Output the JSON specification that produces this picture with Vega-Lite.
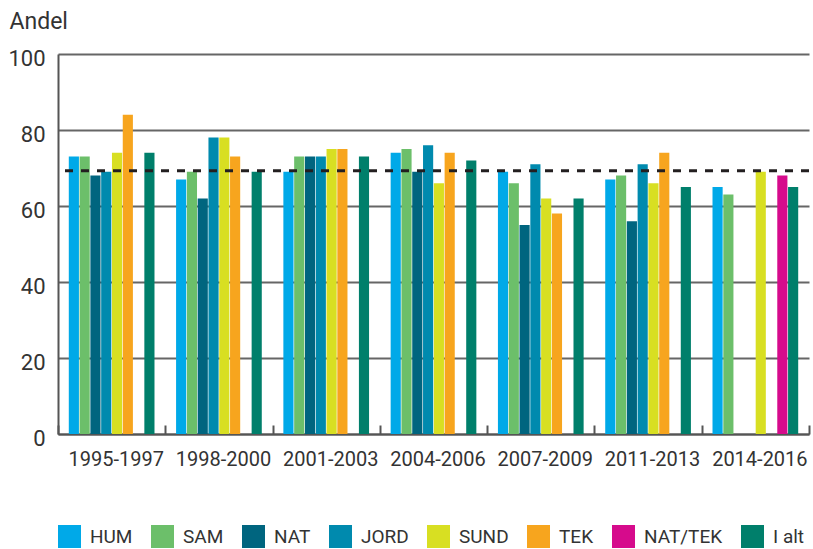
{
  "$schema": "https://vega.github.io/schema/vega-lite/v6.json",
  "autosize": {"type": "none"},
  "padding": {"left": 58, "top": 54, "right": 4, "bottom": 115},
  "width": 751,
  "height": 380,
  "config": {
    "font": "Roboto",
    "view": {"stroke": null},
    "axis": {"labelColor": "#333333", "titleColor": "#333333", "labelFont": "Roboto", "titleFont": "Roboto"},
    "legend": {"labelFont": "Roboto"}
  },
  "datasets": {
    "andele": [
      {"periode": "1995-1997", "omraade": "HUM", "andel": 73},
      {"periode": "1995-1997", "omraade": "SAM", "andel": 73},
      {"periode": "1995-1997", "omraade": "NAT", "andel": 68},
      {"periode": "1995-1997", "omraade": "JORD", "andel": 69},
      {"periode": "1995-1997", "omraade": "SUND", "andel": 74},
      {"periode": "1995-1997", "omraade": "TEK", "andel": 84},
      {"periode": "1995-1997", "omraade": "I alt", "andel": 74},
      {"periode": "1998-2000", "omraade": "HUM", "andel": 67},
      {"periode": "1998-2000", "omraade": "SAM", "andel": 69},
      {"periode": "1998-2000", "omraade": "NAT", "andel": 62},
      {"periode": "1998-2000", "omraade": "JORD", "andel": 78},
      {"periode": "1998-2000", "omraade": "SUND", "andel": 78},
      {"periode": "1998-2000", "omraade": "TEK", "andel": 73},
      {"periode": "1998-2000", "omraade": "I alt", "andel": 69},
      {"periode": "2001-2003", "omraade": "HUM", "andel": 69},
      {"periode": "2001-2003", "omraade": "SAM", "andel": 73},
      {"periode": "2001-2003", "omraade": "NAT", "andel": 73},
      {"periode": "2001-2003", "omraade": "JORD", "andel": 73},
      {"periode": "2001-2003", "omraade": "SUND", "andel": 75},
      {"periode": "2001-2003", "omraade": "TEK", "andel": 75},
      {"periode": "2001-2003", "omraade": "I alt", "andel": 73},
      {"periode": "2004-2006", "omraade": "HUM", "andel": 74},
      {"periode": "2004-2006", "omraade": "SAM", "andel": 75},
      {"periode": "2004-2006", "omraade": "NAT", "andel": 69},
      {"periode": "2004-2006", "omraade": "JORD", "andel": 76},
      {"periode": "2004-2006", "omraade": "SUND", "andel": 66},
      {"periode": "2004-2006", "omraade": "TEK", "andel": 74},
      {"periode": "2004-2006", "omraade": "I alt", "andel": 72},
      {"periode": "2007-2009", "omraade": "HUM", "andel": 69},
      {"periode": "2007-2009", "omraade": "SAM", "andel": 66},
      {"periode": "2007-2009", "omraade": "NAT", "andel": 55},
      {"periode": "2007-2009", "omraade": "JORD", "andel": 71},
      {"periode": "2007-2009", "omraade": "SUND", "andel": 62},
      {"periode": "2007-2009", "omraade": "TEK", "andel": 58},
      {"periode": "2007-2009", "omraade": "I alt", "andel": 62},
      {"periode": "2011-2013", "omraade": "HUM", "andel": 67},
      {"periode": "2011-2013", "omraade": "SAM", "andel": 68},
      {"periode": "2011-2013", "omraade": "NAT", "andel": 56},
      {"periode": "2011-2013", "omraade": "JORD", "andel": 71},
      {"periode": "2011-2013", "omraade": "SUND", "andel": 66},
      {"periode": "2011-2013", "omraade": "TEK", "andel": 74},
      {"periode": "2011-2013", "omraade": "I alt", "andel": 65},
      {"periode": "2014-2016", "omraade": "HUM", "andel": 65},
      {"periode": "2014-2016", "omraade": "SAM", "andel": 63},
      {"periode": "2014-2016", "omraade": "SUND", "andel": 69},
      {"periode": "2014-2016", "omraade": "NAT/TEK", "andel": 68},
      {"periode": "2014-2016", "omraade": "I alt", "andel": 65}
    ],
    "gennemsnit": [{"andel": 69.3}]
  },
  "layer": [
    {
      "data": {"name": "andele"},
      "mark": {"type": "bar"},
      "encoding": {
        "x": {
          "field": "periode", "type": "nominal", "sort": null,
          "scale": {"paddingInner": 0, "paddingOuter": 0},
          "axis": {
            "title": null, "labelAngle": 0, "labelFontSize": 20, "labelPadding": 24,
            "labelOffset": 4,
            "domainColor": "#555555", "domainWidth": 2,
            "tickBand": "extent", "tickSize": -9, "tickColor": "#555555", "tickWidth": 2
          }
        },
        "xOffset": {
          "field": "omraade", "type": "nominal",
          "sort": ["HUM", "SAM", "NAT", "JORD", "SUND", "TEK", "NAT/TEK", "I alt"],
          "scale": {
            "domain": ["HUM", "SAM", "NAT", "JORD", "SUND", "TEK", "NAT/TEK", "I alt"],
            "paddingInner": 0.06, "paddingOuter": 1.05
          }
        },
        "y": {
          "field": "andel", "type": "quantitative",
          "scale": {"domain": [0, 100], "nice": false},
          "axis": {
            "title": "Andel", "titleAngle": 0, "titleAlign": "left", "titleBaseline": "top",
            "titleX": -49, "titleY": -44, "titleFontSize": 23, "titleFontWeight": "normal",
            "values": [0, 20, 40, 60, 80, 100],
            "labelFontSize": 22, "labelPadding": 13, "labelOffset": 4,
            "ticks": false,
            "domainColor": "#555555", "domainWidth": 2,
            "grid": true, "gridColor": "#666666", "gridWidth": 2
          }
        },
        "color": {
          "field": "omraade", "type": "nominal",
          "scale": {
            "domain": ["HUM", "SAM", "NAT", "JORD", "SUND", "TEK", "NAT/TEK", "I alt"],
            "range": ["#00a9e8", "#6cbf6a", "#00657f", "#008aae", "#d8df22", "#f7a51e", "#d60b8c", "#007f6b"]
          },
          "legend": {
            "title": null, "orient": "none", "direction": "horizontal",
            "legendX": 0, "legendY": 471,
            "symbolType": "square", "symbolSize": 529, "symbolStrokeWidth": 0, "symbolOpacity": 1,
            "labelFontSize": 19, "labelColor": "#333333", "labelOffset": 9,
            "columnPadding": 18
          }
        }
      }
    },
    {
      "data": {"name": "gennemsnit"},
      "mark": {"type": "rule", "color": "#231f20", "strokeWidth": 3, "strokeDash": [8, 8]},
      "encoding": {
        "y": {"field": "andel", "type": "quantitative"}
      }
    }
  ]
}
